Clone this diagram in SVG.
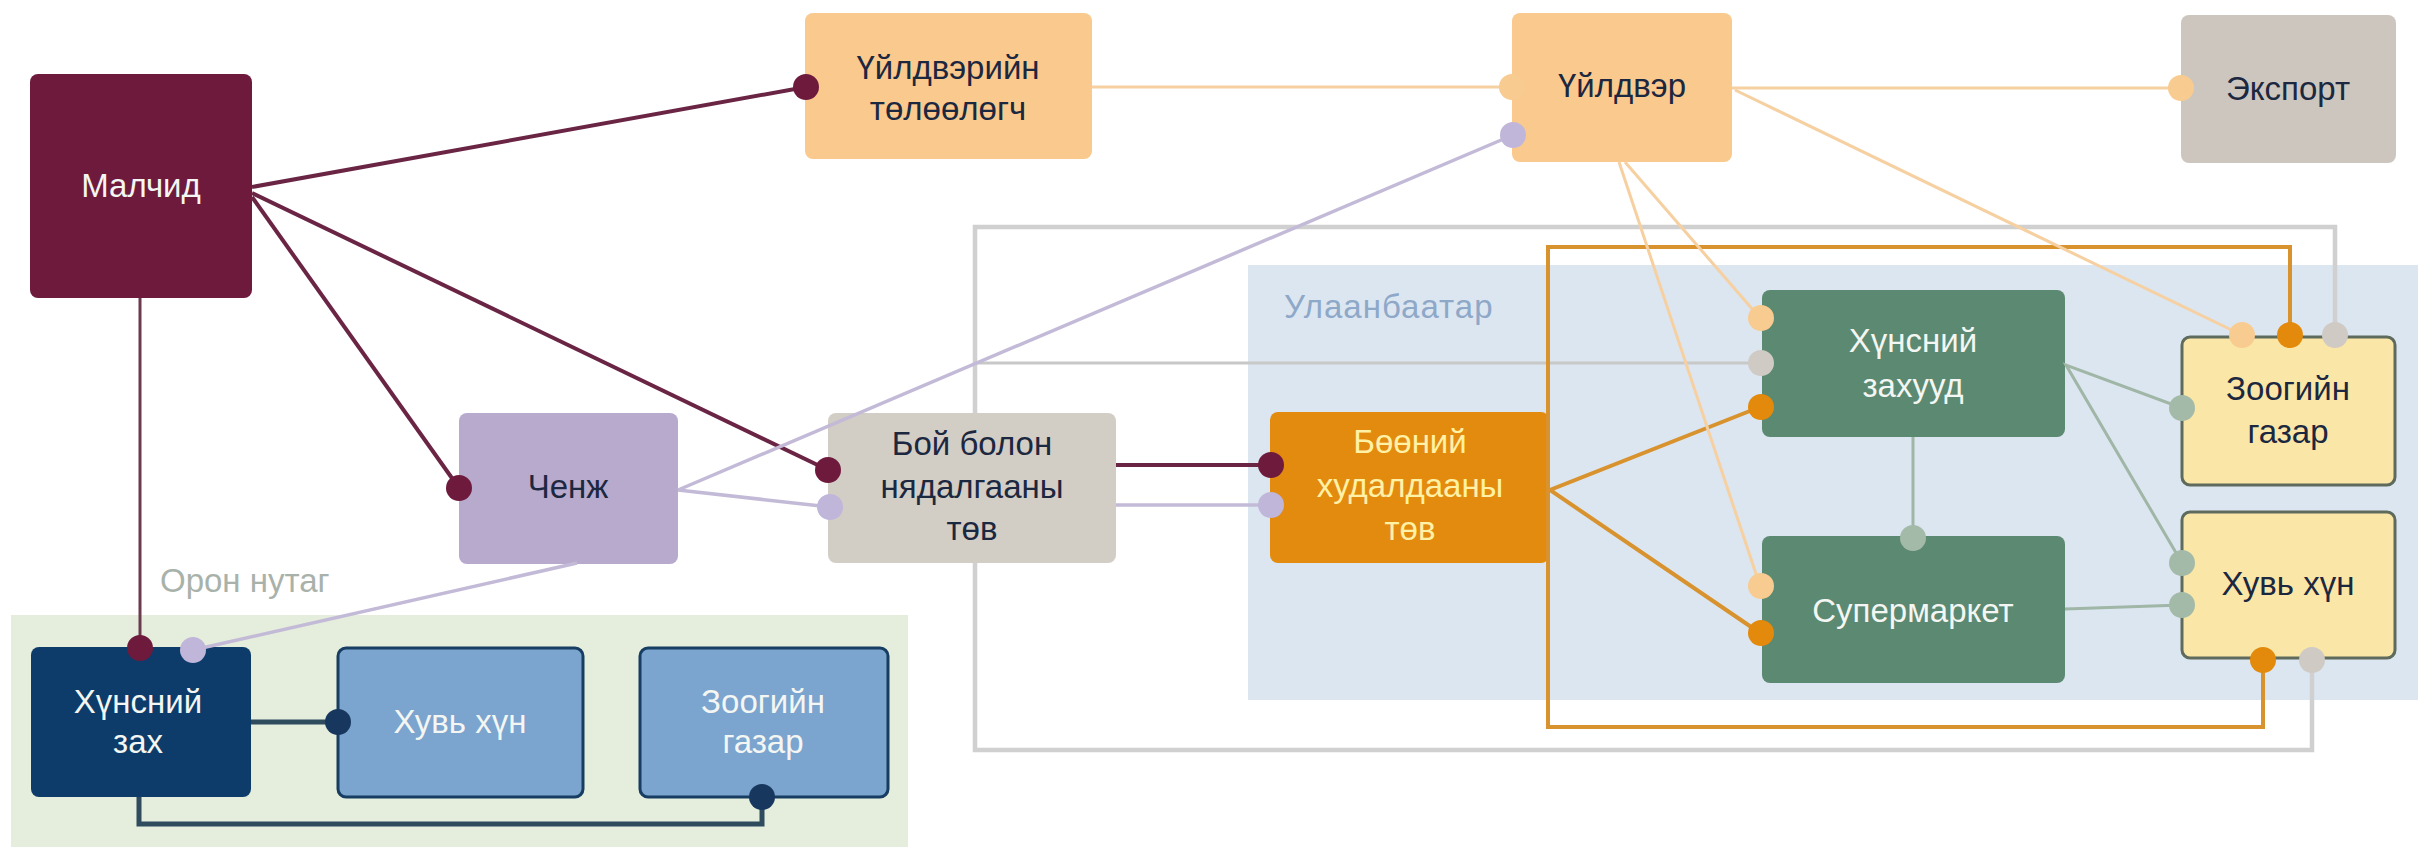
<svg xmlns="http://www.w3.org/2000/svg" width="2418" height="847" viewBox="0 0 2418 847">
<style>
text{font-family:"Liberation Sans",Arial,sans-serif;font-size:33px;text-anchor:middle}
.lt{fill:#F3F6F2}
.dk{fill:#1C2740}
.yl{fill:#FFF1A6}
.lbl{text-anchor:start}
.ln{fill:none}
.mar{stroke:#6A2545;stroke-width:4}
.mar2{stroke:#6B3A50;stroke-width:3}
.lav{stroke:#C3BAD8;stroke-width:3.5}
.lor{stroke:#F6D0A0;stroke-width:3}
.org{stroke:#D8932F;stroke-width:4}
.gry{stroke:#D0D0D0;stroke-width:4.5}
.gry2{stroke:#C8C8C8;stroke-width:3}
.grn{stroke:#A0B6A6;stroke-width:3}
.nav{stroke:#2F4B5E;stroke-width:5}
.d-mar{fill:#6E1A3D}
.d-lav{fill:#C0B6DA}
.d-lor{fill:#F8CB90}
.d-org{fill:#E38A0C}
.d-gry{fill:#CFCAC4}
.d-grn{fill:#A4BAA9}
.d-nav{fill:#17375E}
.bdr-y{stroke:#5E6B5C;stroke-width:3}
.bdr-b{stroke:#173D63;stroke-width:3}
</style>
<defs>
<circle id="dot" r="13"/>
</defs>
<g id="regions">
<rect x="11" y="615" width="897" height="232" fill="#E5EEDC"/>
<text class="lbl" x="160" y="592" fill="#A9B2AA">Орон нутаг</text>
<rect x="1248" y="265" width="1170" height="435" fill="#DCE6F1"/>
<text class="lbl" x="1284" y="318" fill="#8EA8C8" letter-spacing="1">Улаанбаатар</text>
</g>
<g id="nodes">
<g id="malchid"><rect x="30" y="74" width="222" height="224" rx="8" fill="#6E1A3D"/><text class="lt" x="141" y="197">Малчид</text></g>
<g id="uildveriin-tuluuluguch"><rect x="805" y="13" width="287" height="146" rx="8" fill="#FAC98D"/><text class="dk" x="948" y="79">Үйлдвэрийн</text><text class="dk" x="948" y="120">төлөөлөгч</text></g>
<g id="uildver"><rect x="1512" y="13" width="220" height="149" rx="8" fill="#FAC98D"/><text class="dk" x="1622" y="97">Үйлдвэр</text></g>
<g id="export"><rect x="2181" y="15" width="215" height="148" rx="8" fill="#CCC6BF"/><text class="dk" x="2288" y="100">Экспорт</text></g>
<g id="chenj"><rect x="459" y="413" width="219" height="151" rx="8" fill="#B7AACC"/><text class="dk" x="568" y="498">Ченж</text></g>
<g id="boi"><rect x="828" y="413" width="288" height="150" rx="8" fill="#D2CDC5"/><text class="dk" x="972" y="455">Бой болон</text><text class="dk" x="972" y="498">нядалгааны</text><text class="dk" x="972" y="540">төв</text></g>
<g id="buunii"><rect x="1270" y="412" width="279" height="151" rx="8" fill="#E38B0E"/><text class="yl" x="1410" y="453">Бөөний</text><text class="yl" x="1410" y="497">худалдааны</text><text class="yl" x="1410" y="540">төв</text></g>
<g id="hunsnii-zahuud"><rect x="1762" y="290" width="303" height="147" rx="8" fill="#5B8971"/><text class="lt" x="1913" y="352">Хүнсний</text><text class="lt" x="1913" y="397">захууд</text></g>
<g id="supermarket"><rect x="1762" y="536" width="303" height="147" rx="8" fill="#5B8971"/><text class="lt" x="1913" y="622">Супермаркет</text></g>
<g id="zoog-ub"><rect x="2182" y="337" width="213" height="148" rx="8" fill="#FAE6A6" class="bdr-y"/><text class="dk" x="2288" y="400">Зоогийн</text><text class="dk" x="2288" y="443">газар</text></g>
<g id="huvi-ub"><rect x="2182" y="512" width="213" height="146" rx="8" fill="#FAE6A6" class="bdr-y"/><text class="dk" x="2288" y="595">Хувь хүн</text></g>
<g id="hunsnii-zah"><rect x="31" y="647" width="220" height="150" rx="8" fill="#0D3C6B"/><text class="lt" x="138" y="713">Хүнсний</text><text class="lt" x="138" y="753">зах</text></g>
<g id="huvi-local"><rect x="338" y="648" width="245" height="149" rx="8" fill="#7BA4CE" class="bdr-b"/><text class="lt" x="460" y="733">Хувь хүн</text></g>
<g id="zoog-local"><rect x="640" y="648" width="248" height="149" rx="8" fill="#7BA4CE" class="bdr-b"/><text class="lt" x="763" y="713">Зоогийн</text><text class="lt" x="763" y="753">газар</text></g>
</g>
<g id="connectors">
<!-- gray (Бой) -->
<path class="ln gry" d="M975 413 V227 H2335 V337"/>
<path class="ln gry" d="M975 563 V750 H2312 V660"/>
<path class="ln gry2" d="M975 363 H1760"/>
<!-- orange (Бөөний) -->
<path class="ln org" d="M1548 490 V247 H2290 V337"/>
<path class="ln org" d="M1548 490 V727 H2263 V660"/>
<path class="ln org" d="M1760 407 L1550 490 L1760 633"/>
<!-- light orange (Үйлдвэр) -->
<path class="ln lor" d="M1092 87 H1512"/>
<path class="ln lor" d="M1732 88 H2181"/>
<path class="ln lor" d="M1735 90 L2242 335"/>
<path class="ln lor" d="M1625 162 L1760 318"/>
<path class="ln lor" d="M1619 162 L1760 586"/>
<!-- green -->
<path class="ln grn" d="M2182 408 L2066 365 L2182 563"/>
<path class="ln grn" d="M2065 609 L2182 605"/>
<path class="ln grn" d="M1913 437 V538"/>
<!-- maroon (Малчид) -->
<path class="ln mar" d="M252 187 L806 87"/>
<path class="ln mar" d="M252 193 L828 470"/>
<path class="ln mar" d="M252 197 L459 488"/>
<path class="ln mar2" d="M140 298 V648"/>
<path class="ln mar" d="M1116 465 H1270"/>
<!-- lavender (Ченж) -->
<path class="ln lav" d="M678 490 L830 507"/>
<path class="ln lav" d="M678 490 L1513 135"/>
<path class="ln lav" d="M577 563 L193 650"/>
<path class="ln lav" d="M1116 505 H1270"/>
<!-- navy (Хүнсний зах) -->
<path class="ln nav" d="M251 722 H338"/>
<path class="ln nav" d="M139 797 V824 H762 V797"/>
<!-- port dots -->
<use href="#dot" class="d-mar" x="806" y="87"/>
<use href="#dot" class="d-mar" x="828" y="470"/>
<use href="#dot" class="d-mar" x="459" y="488"/>
<use href="#dot" class="d-mar" x="140" y="648"/>
<use href="#dot" class="d-mar" x="1271" y="465"/>
<use href="#dot" class="d-lav" x="830" y="507"/>
<use href="#dot" class="d-lav" x="1513" y="135"/>
<use href="#dot" class="d-lav" x="193" y="650"/>
<use href="#dot" class="d-lav" x="1271" y="505"/>
<use href="#dot" class="d-lor" x="1512" y="87"/>
<use href="#dot" class="d-lor" x="2181" y="88"/>
<use href="#dot" class="d-lor" x="2242" y="335"/>
<use href="#dot" class="d-lor" x="1761" y="318"/>
<use href="#dot" class="d-lor" x="1761" y="586"/>
<use href="#dot" class="d-org" x="2290" y="335"/>
<use href="#dot" class="d-org" x="2263" y="660"/>
<use href="#dot" class="d-org" x="1761" y="407"/>
<use href="#dot" class="d-org" x="1761" y="633"/>
<use href="#dot" class="d-gry" x="2335" y="335"/>
<use href="#dot" class="d-gry" x="2312" y="660"/>
<use href="#dot" class="d-gry" x="1761" y="363"/>
<use href="#dot" class="d-grn" x="2182" y="408"/>
<use href="#dot" class="d-grn" x="2182" y="563"/>
<use href="#dot" class="d-grn" x="2182" y="605"/>
<use href="#dot" class="d-grn" x="1913" y="538"/>
<use href="#dot" class="d-nav" x="338" y="722"/>
<use href="#dot" class="d-nav" x="762" y="797"/>
</g>
</svg>
